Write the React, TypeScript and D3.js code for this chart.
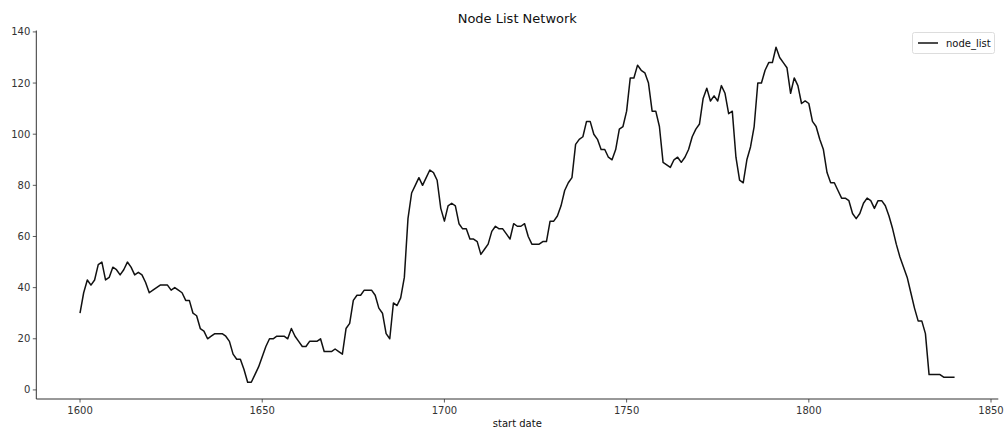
import React from "react";
import * as d3 from "d3";

const startYear = 1600;
const nodeList = [
  30, 38, 43, 41, 43, 49, 50, 43, 44, 48,
  47, 45, 47, 50, 48, 45, 46, 45, 42, 38,
  39, 40, 41, 41, 41, 39, 40, 39, 38, 35,
  35, 30, 29, 24, 23, 20, 21, 22, 22, 22,
  21, 19, 14, 12, 12, 8, 3, 3, 6, 9,
  13, 17, 20, 20, 21, 21, 21, 20, 24, 21,
  19, 17, 17, 19, 19, 19, 20, 15, 15, 15,
  16, 15, 14, 24, 26, 35, 37, 37, 39, 39,
  39, 37, 32, 30, 22, 20, 34, 33, 36, 44,
  67, 77, 80, 83, 80, 83, 86, 85, 82, 71,
  66, 72, 73, 72, 65, 63, 63, 59, 59, 58,
  53, 55, 57, 62, 64, 63, 63, 61, 59, 65,
  64, 64, 65, 60, 57, 57, 57, 58, 58, 66,
  66, 68, 72, 78, 81, 83, 96, 98, 99, 105,
  105, 100, 98, 94, 94, 91, 90, 94, 102, 103,
  109, 122, 122, 127, 125, 124, 120, 109, 109, 103,
  89, 88, 87, 90, 91, 89, 91, 94, 99, 102,
  104, 114, 118, 113, 115, 113, 119, 116, 108, 109,
  91, 82, 81, 90, 95, 103, 120, 120, 125, 128,
  128, 134, 130, 128, 126, 116, 122, 119, 112, 113,
  112, 105, 103, 98, 94, 85, 81, 81, 78, 75,
  75, 74, 69, 67, 69, 73, 75, 74, 71, 74,
  74, 72, 68, 63, 57, 52, 48, 44, 38, 32,
  27, 27, 22, 6, 6, 6, 6, 5, 5, 5,
  5,
];
const xTicks = [1600, 1650, 1700, 1750, 1800, 1850];
const yTicks = [0, 20, 40, 60, 80, 100, 120, 140];

const W = 1004;
const H = 430;
const left = 36.3;
const right = 998.3;
const top = 30.5;
const bottom = 399;
const font = "DejaVu Sans, sans-serif";

export default function App() {
  const data = nodeList.map((v, i) => ({ x: startYear + i, y: v }));
  const x0 = startYear, x1 = startYear + nodeList.length - 1;
  const xPad = (x1 - x0) * 0.05;
  const yMin = d3.min(nodeList)!, yMax = d3.max(nodeList)!;
  const yPad = (yMax - yMin) * 0.05;
  const x = d3.scaleLinear().domain([x0 - xPad, x1 + xPad]).range([left, right]);
  const y = d3.scaleLinear().domain([yMin - yPad, yMax + yPad]).range([bottom, top]);
  const line = d3.line<{ x: number; y: number }>().x(d => x(d.x)).y(d => y(d.y));
  const tickColor = "#333";
  return (
    <svg width={W} height={H} style={{ position: "absolute", left: 0, top: 0 }} fontFamily={font}>
      <rect width={W} height={H} fill="#fff" />
      <text x={(left + right) / 2} y={23} textAnchor="middle" fontSize={13} fill="#111">Node List Network</text>
      <path d={line(data) || ""} fill="none" stroke="#111" strokeWidth={1.5} strokeLinejoin="round" />
      <line x1={left} x2={left} y1={top} y2={bottom} stroke="#333" strokeWidth={1} />
      <line x1={left} x2={right} y1={bottom} y2={bottom} stroke="#333" strokeWidth={1} />
      {yTicks.map(t => (
        <g key={"y" + t}>
          <line x1={left - 3.5} x2={left} y1={y(t)} y2={y(t)} stroke={tickColor} strokeWidth={0.8} />
          <text x={left - 6} y={y(t)} dy="0.35em" textAnchor="end" fontSize={10} fill={tickColor}>{t}</text>
        </g>
      ))}
      {xTicks.map(t => (
        <g key={"x" + t}>
          <line x1={x(t)} x2={x(t)} y1={bottom} y2={bottom + 3.5} stroke={tickColor} strokeWidth={0.8} />
          <text x={x(t)} y={bottom + 15} textAnchor="middle" fontSize={10} fill={tickColor}>{t}</text>
        </g>
      ))}
      <text x={(left + right) / 2} y={427} textAnchor="middle" fontSize={10} fill="#111">start date</text>
      <g>
        <rect x={912.5} y={32.5} width={82} height={21} rx={2} fill="#fff" stroke="#ddd" strokeWidth={1} />
        <line x1={918} x2={938} y1={43} y2={43} stroke="#111" strokeWidth={1.5} />
        <text x={946} y={43} dy="0.35em" fontSize={10} fill="#111">node_list</text>
      </g>
    </svg>
  );
}
